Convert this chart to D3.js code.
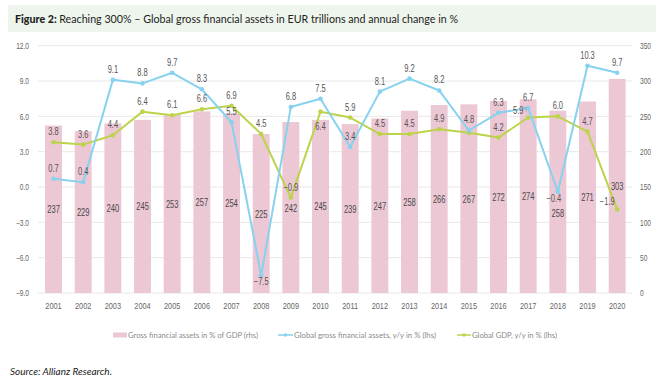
<!DOCTYPE html>
<html><head><meta charset="utf-8">
<script src="https://cdn.jsdelivr.net/npm/d3@7/dist/d3.min.js"></script>
<style>
body{margin:0;background:#fff;}
svg{display:block;}
</style></head>
<body>
<svg id="c" width="664" height="378"></svg>
<script>
const years = ["2001","2002","2003","2004","2005","2006","2007","2008","2009","2010","2011","2012","2013","2014","2015","2016","2017","2018","2019","2020"];
const assetsPctGDP = [237,229,240,245,253,257,254,225,242,245,239,247,258,266,267,272,274,258,271,303];
const assetsGrowth = [0.7,0.4,9.1,8.8,9.7,8.3,5.5,-7.5,6.8,7.5,3.4,8.1,9.2,8.2,4.8,6.3,6.7,-0.4,10.3,9.7];
const gdpGrowth = [3.8,3.6,4.4,6.4,6.1,6.6,6.9,4.5,-0.9,6.4,5.9,4.5,4.5,4.9,4.6,4.2,5.9,6.0,4.7,-1.9];
const gdpLabelShown = [1,1,1,1,1,1,1,1,1,1,1,1,1,1,0,1,1,1,1,1];
const leftTicks = [-9,-6,-3,0,3,6,9,12];
const rightTicks = [0,50,100,150,200,250,300,350];
const legendLabels = ["Gross financial assets in % of GDP (rhs)","Global gross financial assets, y/y in % (lhs)","Global GDP, y/y in % (lhs)"];

// label placement (styling)
const blueBelow = {"2008":1,"2018":1};
const greenPlace = {"2010":"below","2017":"left","2020":"left"};

const svg = d3.select("#c");
const x = d3.scaleBand().domain(years).range([38.7,632]).paddingInner(0.43).paddingOuter(0.215);
const yL = d3.scaleLinear().domain([-9,12]).range([293,45.7]);
const yR = d3.scaleLinear().domain([0,350]).range([293,45.7]);
const cx = d => x(d)+x.bandwidth()/2;

const nFont = "'Liberation Sans',Arial,sans-serif";
const uiFont = "Lato,'Noto Sans',sans-serif";
const SX = 0.75;

// condensed text helper
function ctext(g, px, py, str, opts){
  opts = opts||{};
  return g.append("text")
    .attr("transform",`translate(${px},${py}) scale(${opts.sx||SX},1)`)
    .attr("text-anchor",opts.anchor||"middle")
    .attr("font-family",nFont).attr("font-size",opts.size||10)
    .attr("fill",opts.fill||"#555").text(str);
}

// title band
svg.append("rect").attr("x",8).attr("y",5).attr("width",648).attr("height",27).attr("fill","#eef5ec");
const t = svg.append("text").attr("x",15).attr("y",22.5).attr("font-family",uiFont).attr("font-size",11.6).attr("fill","#222")
  .attr("textLength",443).attr("lengthAdjust","spacingAndGlyphs");
t.append("tspan").attr("font-weight","900").text("Figure 2: ");
t.append("tspan").text("Reaching 300% – Global gross financial assets in EUR trillions and annual change in %");

// gridlines
svg.append("g").selectAll("line").data(leftTicks).join("line")
  .attr("x1",38).attr("x2",632).attr("y1",d=>yL(d)).attr("y2",d=>yL(d))
  .attr("stroke","#e8e8e8").attr("stroke-width",1);

// axes (d3 axes, labels condensed after)
function condense(g){
  g.select(".domain").remove();
  g.selectAll(".tick text").each(function(){
    const s=d3.select(this);
    const xx=+s.attr("x")||0;
    s.attr("x",xx/SX).attr("transform",`scale(${SX},1)`)
     .attr("font-family",nFont).attr("fill","#666");
  });
}
const gL = svg.append("g").attr("transform","translate(38,0)")
  .call(d3.axisLeft(yL).tickValues(leftTicks).tickFormat(d3.format(".1f")).tickSize(0).tickPadding(9));
gL.selectAll(".tick text").attr("font-size",8.8);
condense(gL);
const gR = svg.append("g").attr("transform","translate(632,0)")
  .call(d3.axisRight(yR).tickValues(rightTicks).tickSize(0).tickPadding(8));
gR.selectAll(".tick text").attr("font-size",8.8);
condense(gR);
const gX = svg.append("g").attr("transform","translate(0,293)")
  .call(d3.axisBottom(x).tickSize(0).tickPadding(9));
gX.selectAll(".tick text").attr("font-size",9.8);
condense(gX);

// bars
svg.append("g").selectAll("rect").data(years).join("rect")
  .attr("x",d=>x(d)).attr("width",x.bandwidth())
  .attr("y",(d,i)=>yR(assetsPctGDP[i])).attr("height",(d,i)=>yR(0)-yR(assetsPctGDP[i]))
  .attr("fill","#ecc7d4");

// bar labels
const gBL = svg.append("g");
years.forEach((d,i)=>{
  ctext(gBL, cx(d), yR(assetsPctGDP[i]/2)+4+(d==="2018"?11:0), assetsPctGDP[i], {size:10.5, sx:0.72, fill:"#4a4a4a"});
});

function drawLine(vals,color){
  const line = d3.line().x((d,i)=>cx(years[i])).y(d=>yL(d));
  svg.append("path").datum(vals).attr("d",line).attr("fill","none").attr("stroke",color).attr("stroke-width",2).attr("stroke-linejoin","round");
  svg.append("g").selectAll("circle").data(vals).join("circle")
    .attr("cx",(d,i)=>cx(years[i])).attr("cy",d=>yL(d)).attr("r",2.3).attr("fill",color);
}
drawLine(gdpGrowth,"#bcd34b");
drawLine(assetsGrowth,"#86d2ef");

// line labels
const fmt = d3.format(".1f");
const gLab = svg.append("g");
years.forEach((d,i)=>{
  const y=yL(assetsGrowth[i]);
  ctext(gLab, cx(d)+(d==="2018"?-4:0), blueBelow[d]? y+10 : y-7, fmt(assetsGrowth[i]));
});
years.forEach((d,i)=>{
  if(!gdpLabelShown[i]) return;
  const p=greenPlace[d]; const y=yL(gdpGrowth[i]);
  ctext(gLab, cx(d)+(p==="left"?-10:0), p==="below"? y+18 : p==="left"? y-4 : y-7, fmt(gdpGrowth[i]));
});
// small leader for 2017 GDP label
{
  const i=years.indexOf("2017");
  svg.append("path").attr("d",`M${cx("2017")-5},${yL(gdpGrowth[i])-10} h3 v4`).attr("fill","none").attr("stroke","#999").attr("stroke-width",0.6);
}

// legend
const LY = 335;
const lg = svg.append("g").attr("font-family",uiFont).attr("font-size",8).attr("fill","#8a8a8a");
lg.append("rect").attr("x",113).attr("y",LY-2.5).attr("width",14).attr("height",5).attr("fill","#ecc7d4");
lg.append("text").attr("x",128).attr("y",LY+3).attr("textLength",130).attr("lengthAdjust","spacingAndGlyphs").text(legendLabels[0]);
lg.append("line").attr("x1",278).attr("x2",293).attr("y1",LY).attr("y2",LY).attr("stroke","#86d2ef").attr("stroke-width",1.5);
lg.append("circle").attr("cx",285.5).attr("cy",LY).attr("r",1.8).attr("fill","#86d2ef");
lg.append("text").attr("x",294).attr("y",LY+3).attr("textLength",142).attr("lengthAdjust","spacingAndGlyphs").text(legendLabels[1]);
lg.append("line").attr("x1",457).attr("x2",471).attr("y1",LY).attr("y2",LY).attr("stroke","#bcd34b").attr("stroke-width",1.5);
lg.append("circle").attr("cx",464).attr("cy",LY).attr("r",1.8).attr("fill","#bcd34b");
lg.append("text").attr("x",472).attr("y",LY+3).attr("textLength",85).attr("lengthAdjust","spacingAndGlyphs").text(legendLabels[2]);

// source
svg.append("text").attr("x",10).attr("y",375).attr("font-family",uiFont).attr("font-size",10.2).attr("font-style","italic").attr("fill","#222")
  .attr("textLength",102).attr("lengthAdjust","spacingAndGlyphs").text("Source: Allianz Research.");
</script>
</body></html>
